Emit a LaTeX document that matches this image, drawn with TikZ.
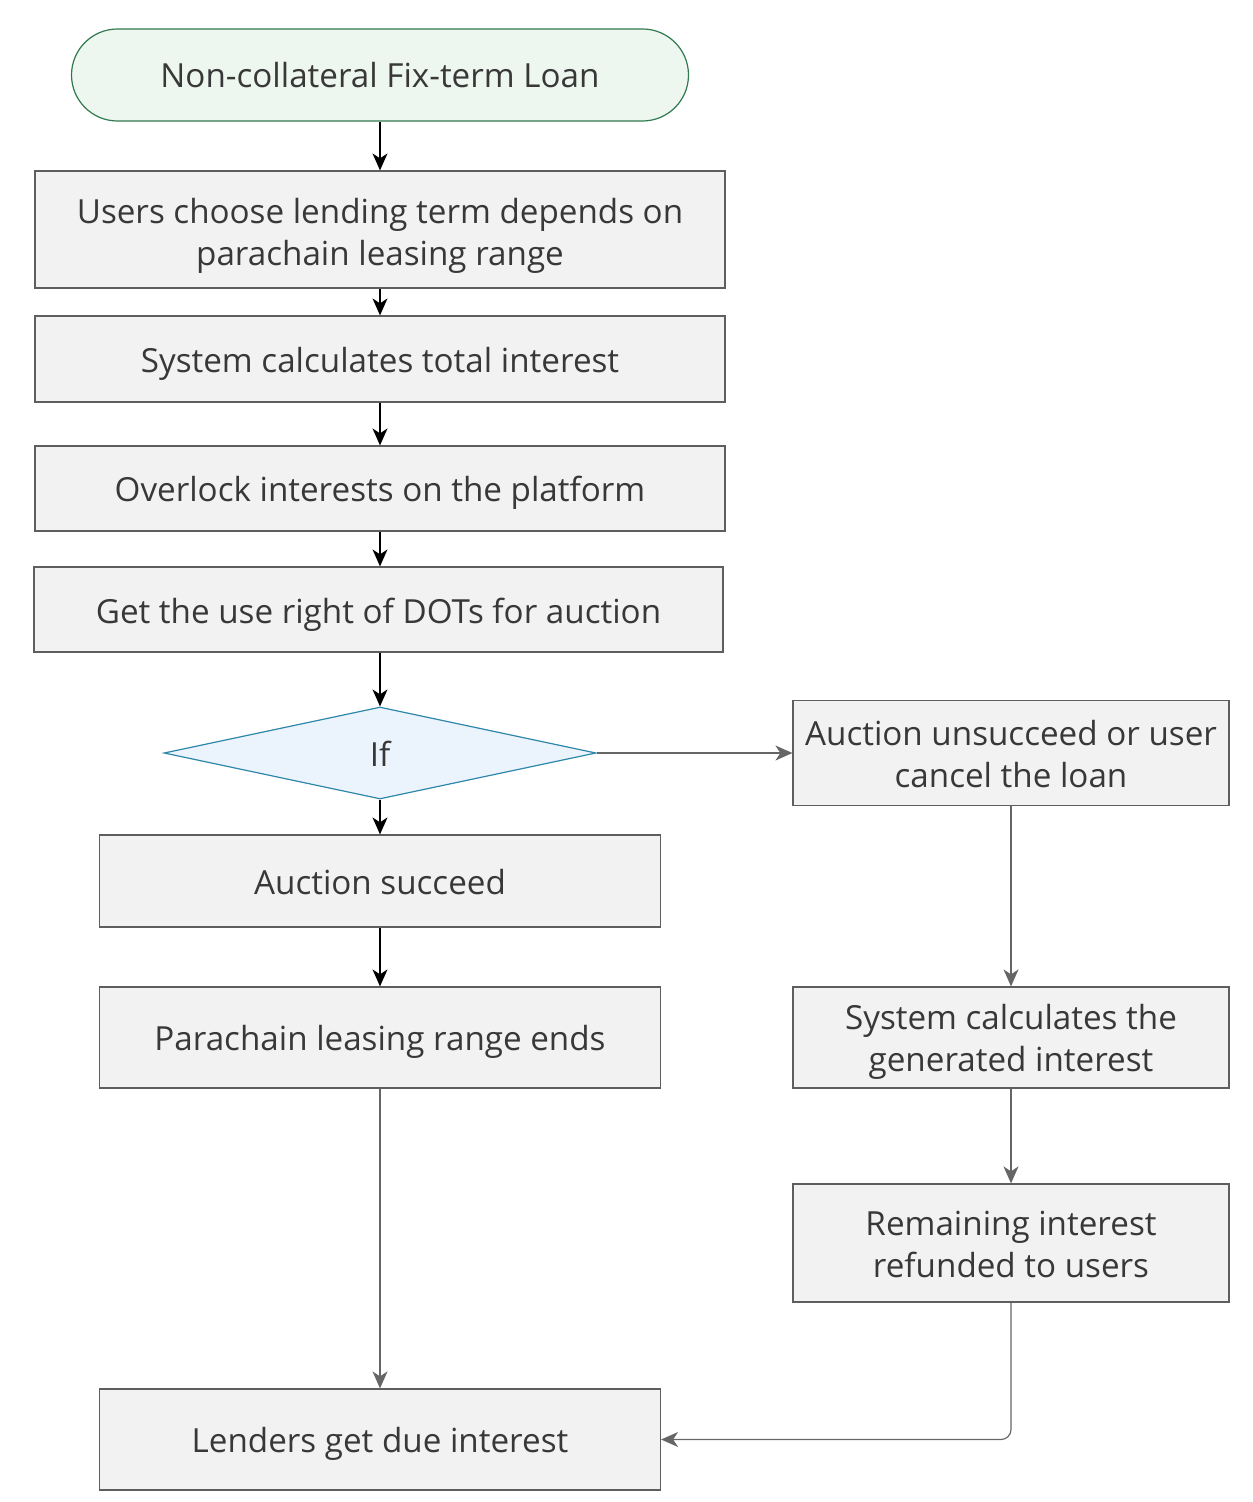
\documentclass[tikz,border=0pt]{standalone}
\usepackage{fontspec}
\setmainfont{Open Sans}
\usetikzlibrary{arrows.meta,shapes.geometric}
\definecolor{boxfill}{HTML}{F2F2F2}
\definecolor{boxdraw}{HTML}{5E5E5E}
\definecolor{txt}{HTML}{383838}
\definecolor{startfill}{HTML}{EEF6F0}
\definecolor{startdraw}{HTML}{2F7A4E}
\definecolor{difill}{HTML}{EBF4FC}
\definecolor{didraw}{HTML}{2E87AB}
\definecolor{graylink}{HTML}{666666}
\newcommand\tx[2][2.5pt]{\raisebox{-#1}[\height][\depth]{\begin{tabular}{@{}c@{}}#2\end{tabular}}}
\begin{document}
\begin{tikzpicture}[x=0.5pt,y=-0.5pt,
  every node/.style={font=\fontsize{16.6pt}{21pt}\selectfont, text=txt, inner sep=0pt},
  procbox/.style={draw=boxdraw, fill=boxfill, line width=0.6pt, rectangle},
  startbox/.style={draw=startdraw, fill=startfill, line width=0.6pt, rectangle, rounded corners=23pt},
  decide/.style={draw=didraw, fill=difill, line width=0.6pt, diamond, inner sep=0pt},
  blk/.style={draw=black, line width=0.6pt, -{Stealth[length=8.5pt,width=7.5pt,inset=2.5pt]}},
  gry/.style={draw=graylink, line width=0.6pt, -{Stealth[length=8.5pt,width=7.5pt,inset=2.5pt]}}
]
\useasboundingbox (0,0) rectangle (1252,1502);
\node[startbox, minimum width=308.5pt, minimum height=46pt] (start) at (380,75) {\tx[2pt]{Non-collateral Fix-term Loan}};
\node[procbox, minimum width=345pt, minimum height=58.5pt] (b1) at (380,229.5) {\tx[3.5pt]{Users choose lending term depends on\\parachain leasing range}};
\node[procbox, minimum width=345pt, minimum height=43pt] (b2) at (380,359) {\tx{System calculates total interest}};
\node[procbox, minimum width=345pt, minimum height=42.5pt] (b3) at (380,488.5) {\tx{Overlock interests on the platform}};
\node[procbox, minimum width=344.5pt, minimum height=42.5pt] (b4) at (378.5,609.5) {\tx[3pt]{Get the use right of DOTs for auction}};
\node[decide, minimum width=216pt, minimum height=46pt] (dec) at (380,753) {\tx{If}};
\node[procbox, minimum width=218pt, minimum height=52.5pt] (ra) at (1011,753) {\tx{Auction unsucceed or user\\cancel the loan}};
\node[procbox, minimum width=280.5pt, minimum height=46pt] (ok) at (380,881) {\tx{Auction succeed}};
\node[procbox, minimum width=280.5pt, minimum height=50.5pt] (pe) at (380,1037.5) {\tx{Parachain leasing range ends}};
\node[procbox, minimum width=218pt, minimum height=50.5pt] (rb) at (1011,1037.5) {\tx{System calculates the\\generated interest}};
\node[procbox, minimum width=218pt, minimum height=59pt] (rc) at (1011,1243) {\tx{Remaining interest\\refunded to users}};
\node[procbox, minimum width=280.5pt, minimum height=50.5pt] (ld) at (380,1439.5) {\tx{Lenders get due interest}};

\draw[blk] (start.south) -- (b1.north);
\draw[blk] (b1.south) -- (b2.north);
\draw[blk] (b2.south) -- (b3.north);
\draw[blk] (b3.south -| dec.north) -- (b4.north -| dec.north);
\draw[blk] (b4.south -| dec.north) -- (dec.north);
\draw[blk] (dec.south) -- (ok.north);
\draw[blk] (ok.south) -- (pe.north);
\draw[gry] (dec.east) -- (ra.west);
\draw[gry] (ra.south) -- (rb.north);
\draw[gry] (rb.south) -- (rc.north);
\draw[gry] (pe.south) -- (ld.north);
\draw[gry, rounded corners=5pt] (rc.south) |- (ld.east);
\end{tikzpicture}
\end{document}
